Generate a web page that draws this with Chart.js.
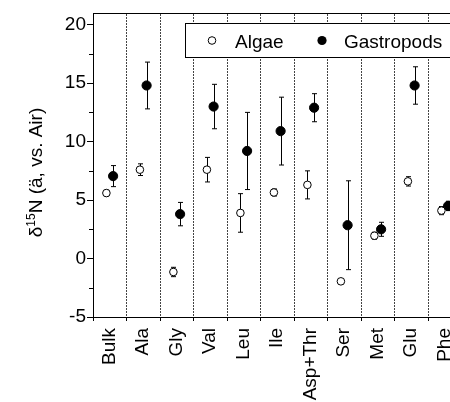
<!DOCTYPE html>
<html>
<head>
<meta charset="utf-8">
<script src="https://cdn.jsdelivr.net/npm/chart.js@4.4.0/dist/chart.umd.min.js"></script>
<style>
html, body { margin: 0; padding: 0; background: #fff; overflow: hidden; }
#wrap { width: 450px; height: 402px; overflow: hidden; }
canvas { display: block; }
</style>
</head>
<body>
<div id="wrap"><canvas id="chart" width="470" height="402"></canvas></div>
<script>
var categories = ['Bulk', 'Ala', 'Gly', 'Val', 'Leu', 'Ile', 'Asp+Thr', 'Ser', 'Met', 'Glu', 'Phe'];
var algae = [5.6, 7.6, -1.15, 7.6, 3.9, 5.65, 6.3, -1.95, 1.95, 6.6, 4.1];
var algaeErr = [0.25, 0.5, 0.4, 1.05, 1.65, 0.3, 1.2, 0.2, 0.3, 0.4, 0.35];
var gastropods = [7.05, 14.8, 3.8, 13.0, 9.2, 10.9, 12.9, 2.85, 2.5, 14.8, 4.5];
var gastropodsErr = [0.9, 2.0, 1.0, 1.9, 3.3, 2.9, 1.2, 3.8, 0.6, 1.6, 0.4];
var yTicks = [-5, 0, 5, 10, 15, 20];
var yMinorTicks = [-2.5, 2.5, 7.5, 12.5, 17.5];

var FONT = 'Arial, "Liberation Sans", sans-serif';
Chart.defaults.font.family = FONT;
Chart.defaults.color = '#000';

function points(values, shift) {
	return values.map(function(v, i) { return { x: i + 0.5 + shift, y: v }; });
}

// vertical error bars, drawn under the markers
var errorBars = {
	id: 'errorBars',
	beforeDatasetsDraw: function(chart) {
		var ctx = chart.ctx;
		var ys = chart.scales.y;
		ctx.save();
		ctx.strokeStyle = '#000';
		ctx.lineWidth = 1;
		chart.data.datasets.forEach(function(ds, di) {
			var meta = chart.getDatasetMeta(di);
			meta.data.forEach(function(el, i) {
				var v = ds.data[i].y, e = ds.errors[i];
				var x = Math.round(el.x) + 0.5;
				var y1 = ys.getPixelForValue(v + e), y2 = ys.getPixelForValue(v - e);
				ctx.beginPath();
				ctx.moveTo(x, y1); ctx.lineTo(x, y2);
				ctx.moveTo(x - 2.5, y1); ctx.lineTo(x + 2.5, y1);
				ctx.moveTo(x - 2.5, y2); ctx.lineTo(x + 2.5, y2);
				ctx.stroke();
			});
		});
		ctx.restore();
	}
};

var decorations = {
	id: 'decorations',
	afterDraw: function(chart) {
		var ctx = chart.ctx;
		var ys = chart.scales.y;
		var area = chart.chartArea;
		ctx.save();
		// minor ticks on y axis
		ctx.strokeStyle = '#000';
		ctx.lineWidth = 1;
		yMinorTicks.forEach(function(v) {
			var y = Math.round(ys.getPixelForValue(v)) + 0.5;
			ctx.beginPath();
			ctx.moveTo(area.left - 4, y); ctx.lineTo(area.left, y);
			ctx.stroke();
		});

		// y title with superscript
		ctx.save();
		ctx.translate(42, 172.5);
		ctx.rotate(-Math.PI / 2);
		ctx.fillStyle = '#000';
		ctx.textBaseline = 'alphabetic';
		var big = '19px ' + FONT, small = '12px ' + FONT;
		ctx.font = big;
		var w1 = ctx.measureText('\u03b4').width;
		var w3 = ctx.measureText('N (\u00e4, vs. Air)').width;
		ctx.font = small;
		var w2 = ctx.measureText('15').width;
		var x0 = -(w1 + w2 + w3) / 2;
		ctx.font = big;
		ctx.fillText('\u03b4', x0, 0);
		ctx.font = small;
		ctx.fillText('15', x0 + w1, -7);
		ctx.font = big;
		ctx.fillText('N (\u00e4, vs. Air)', x0 + w1 + w2, 0);
		ctx.restore();

		// legend box
		ctx.fillStyle = '#fff';
		ctx.fillRect(185.5, 23.5, 300, 34);
		ctx.strokeRect(185.5, 23.5, 300, 34);
		ctx.beginPath();
		ctx.arc(212, 40.5, 3.8, 0, Math.PI * 2);
		ctx.fillStyle = '#fff';
		ctx.fill();
		ctx.stroke();
		ctx.beginPath();
		ctx.arc(322, 40.5, 4.6, 0, Math.PI * 2);
		ctx.fillStyle = '#000';
		ctx.fill();
		ctx.font = '19px ' + FONT;
		ctx.textBaseline = 'alphabetic';
		ctx.fillText('Algae', 235, 48);
		ctx.fillText('Gastropods', 344, 48);
		ctx.restore();
	}
};

var ctx = document.getElementById('chart');
var chart = new Chart(ctx, {
	type: 'scatter',
	data: {
		datasets: [{
			label: 'Algae',
			data: points(algae, -0.1),
			errors: algaeErr,
			pointStyle: 'circle',
			pointRadius: 3.8,
			pointBackgroundColor: '#fff',
			pointBorderColor: '#000',
			pointBorderWidth: 1
		}, {
			label: 'Gastropods',
			data: points(gastropods, 0.1),
			errors: gastropodsErr,
			pointStyle: 'circle',
			pointRadius: 4.6,
			pointBackgroundColor: '#000',
			pointBorderColor: '#000',
			pointBorderWidth: 1
		}]
	},
	options: {
		responsive: false,
		animation: false,
		layout: { padding: { left: 0, top: 13, right: 8.5, bottom: 0 } },
		plugins: { legend: { display: false }, tooltip: { enabled: false } },
		scales: {
			x: {
				type: 'linear',
				position: 'bottom',
				min: 0,
				max: 11,
				afterBuildTicks: function(s) {
					s.ticks = categories.map(function(c, i) { return { value: i }; });
				},
				ticks: {
					callback: function(v, i) { return categories[i]; },
					font: { size: 19 },
					color: '#000',
					minRotation: 90,
					maxRotation: 90,
					autoSkip: false,
					labelOffset: 16.75,
					padding: 7
				},
				grid: { drawOnChartArea: false, tickLength: 4, color: '#000' },
				border: { color: '#000', width: 1 },
				afterFit: function(s) { s.height = 85; }
			},
			xTop: {
				type: 'linear',
				position: 'top',
				min: 0,
				max: 11,
				afterBuildTicks: function(s) {
					s.ticks = categories.slice(1).map(function(c, i) { return { value: i + 1 }; });
				},
				ticks: { display: false },
				grid: { drawTicks: false, color: '#444', lineWidth: 1 },
				border: { display: true, color: '#000', width: 1, dash: [2, 1] },
				afterFit: function(s) { s.height = 0; }
			},
			y: {
				min: -5,
				max: 21,
				afterBuildTicks: function(s) {
					s.ticks = yTicks.map(function(v) { return { value: v }; });
				},
				ticks: { font: { size: 19 }, color: '#000', padding: 1 },
				grid: { drawOnChartArea: false, tickLength: 6, color: '#000' },
				border: { color: '#000', width: 1 },
				afterFit: function(s) { s.height; s.width = 93; }
			}
		}
	},
	plugins: [errorBars, decorations]
});
</script>
</body>
</html>
